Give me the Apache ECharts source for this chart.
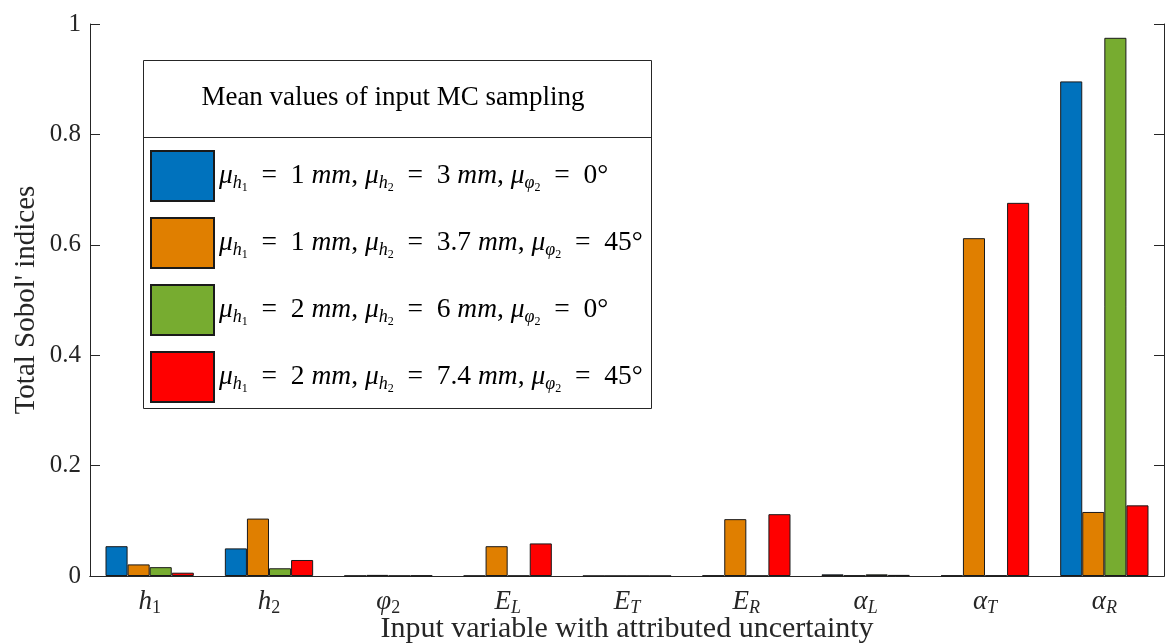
<!DOCTYPE html>
<html>
<head>
<meta charset="utf-8">
<script src="https://cdn.jsdelivr.net/npm/echarts@6/dist/echarts.min.js"></script>
<style>
  html, body { margin: 0; padding: 0; background: #fff; }
  #main { width: 1171px; height: 644px; }
</style>
</head>
<body>
<div id="main"></div>
<script>
// categories: base symbol + subscript
var catBase = ['h', 'h', 'φ', 'E', 'E', 'E', 'α', 'α', 'α'];
var catSub = ['1', '2', '2', 'L', 'T', 'R', 'L', 'T', 'R'];

// legend parameters (mean values of MC sampling)
var h1Means = ['1', '1', '2', '2'];
var h2Means = ['3', '3.7', '6', '7.4'];
var phi2Means = ['0', '45', '0', '45'];

// total Sobol' indices per series
var s1 = [0.054, 0.050, 0.0005, 0.0005, 0.0002, 0.001, 0.003, 0.001, 0.896];
var s2 = [0.021, 0.104, 0.002, 0.054, 0.0002, 0.103, 0.001, 0.612, 0.116];
var s3 = [0.016, 0.014, 0.0005, 0.0005, 0.0002, 0.0005, 0.003, 0.001, 0.975];
var s4 = [0.006, 0.029, 0.001, 0.059, 0.0002, 0.112, 0.002, 0.676, 0.128];

var colors = ['#0072BD', '#E07F00', '#77AC30', '#FF0000'];
var serif = 'Liberation Serif';

var allData = [s1, s2, s3, s4];
var names = [];
for (var i = 0; i < 4; i++) {
    names.push('μh1 = ' + h1Means[i] + ' mm, μh2 = ' + h2Means[i] + ' mm, μφ2 = ' + phi2Means[i] + '°');
}

var series = [];
for (var i = 0; i < 4; i++) {
    series.push({
        name: names[i], type: 'bar', data: allData[i],
        barGap: '0%', barCategoryGap: '26%',
        itemStyle: { color: colors[i], borderColor: '#1a1a1a', borderWidth: 1 }
    });
}

var chart = echarts.init(document.getElementById('main'));
var axisColor = '#262626';
var eq = '\u2002=\u2002';
var option = {
    animation: false,
    grid: { left: 90, right: 7, top: 24, bottom: 68, outerBoundsMode: 'none', containLabel: false },
    legend: {
        orient: 'vertical', left: 150, top: 150, padding: 0,
        itemWidth: 63, itemHeight: 50, itemGap: 15,
        icon: 'rect', selectedMode: false,
        formatter: function (name) {
            var i = names.indexOf(name);
            return '{m|μ}{s|h}{ss|1}{r|' + eq + h1Means[i] + ' }{m|mm}{r|, }' +
                '{m|μ}{s|h}{ss|2}{r|' + eq + h2Means[i] + ' }{m|mm}{r|, }' +
                '{m|μ}{s|φ}{ss|2}{r|' + eq + phi2Means[i] + '°}';
        },
        textStyle: {
            rich: {
                m: { fontFamily: serif, fontStyle: 'italic', fontSize: 27.5, color: '#000' },
                r: { fontFamily: serif, fontSize: 27.5, color: '#000' },
                s: { fontFamily: serif, fontStyle: 'italic', fontSize: 18, color: '#000', padding: [14, 0, 0, 0] },
                ss: { fontFamily: serif, fontSize: 12, color: '#000', padding: [24, 0, 0, 0] }
            }
        }
    },
    graphic: [
        { type: 'rect', z: 0, shape: { x: 143.5, y: 60.5, width: 508, height: 348 },
          style: { fill: '#fff', stroke: '#262626', lineWidth: 1 } },
        { type: 'line', z: 1, shape: { x1: 143.5, y1: 137.5, x2: 651.5, y2: 137.5 },
          style: { stroke: '#262626', lineWidth: 1 } },
        { type: 'text', z: 1, x: 393, y: 98,
          style: { text: 'Mean values of input MC sampling', fontFamily: serif, fontSize: 27,
                   fill: '#000', align: 'center', verticalAlign: 'middle' } }
    ],
    xAxis: [{
        type: 'category', data: catBase.map(function (b, k) { return b + catSub[k]; }),
        name: 'Input variable with attributed uncertainty', nameLocation: 'middle', nameGap: 38,
        nameMoveOverlap: false,
        nameTextStyle: { fontFamily: serif, fontSize: 30, color: '#262626' },
        axisLine: { lineStyle: { color: axisColor } },
        axisTick: { inside: true, alignWithLabel: true, length: 10, lineStyle: { color: '#666' } },
        axisLabel: {
            margin: 11,
            formatter: function (v, k) {
                var sub = catSub[k];
                var subStyle = /[0-9]/.test(sub) ? 'n' : 'i';
                return '{b|' + catBase[k] + '}{' + subStyle + '|' + sub + '}';
            },
            rich: {
                b: { fontFamily: serif, fontStyle: 'italic', fontSize: 27, color: '#262626' },
                n: { fontFamily: serif, fontSize: 18, color: '#262626', padding: [12, 0, 0, 0] },
                i: { fontFamily: serif, fontStyle: 'italic', fontSize: 18, color: '#262626', padding: [12, 0, 0, 0] }
            }
        }
    }, {
        type: 'category', position: 'top', data: catBase.map(function (b, k) { return b + catSub[k]; }),
        axisLine: { lineStyle: { color: axisColor } },
        axisTick: { inside: true, alignWithLabel: true, length: 10, lineStyle: { color: '#888' } },
        axisLabel: { show: false }
    }],
    yAxis: [{
        type: 'value', min: 0, max: 1, interval: 0.2,
        name: "Total Sobol' indices", nameLocation: 'middle', nameGap: 49,
        nameMoveOverlap: false,
        nameTextStyle: { fontFamily: serif, fontSize: 29, color: '#262626' },
        axisLine: { show: true, lineStyle: { color: axisColor } },
        axisTick: { show: true, inside: true, length: 10, lineStyle: { color: axisColor } },
        axisLabel: { fontFamily: serif, fontSize: 25, color: '#262626', margin: 9 },
        splitLine: { show: false }
    }, {
        type: 'value', min: 0, max: 1, interval: 0.2, position: 'right',
        axisLine: { show: true, lineStyle: { color: axisColor } },
        axisTick: { show: true, inside: true, length: 10, lineStyle: { color: axisColor } },
        axisLabel: { show: false },
        splitLine: { show: false }
    }],
    series: series
};
chart.setOption(option);
</script>
</body>
</html>
